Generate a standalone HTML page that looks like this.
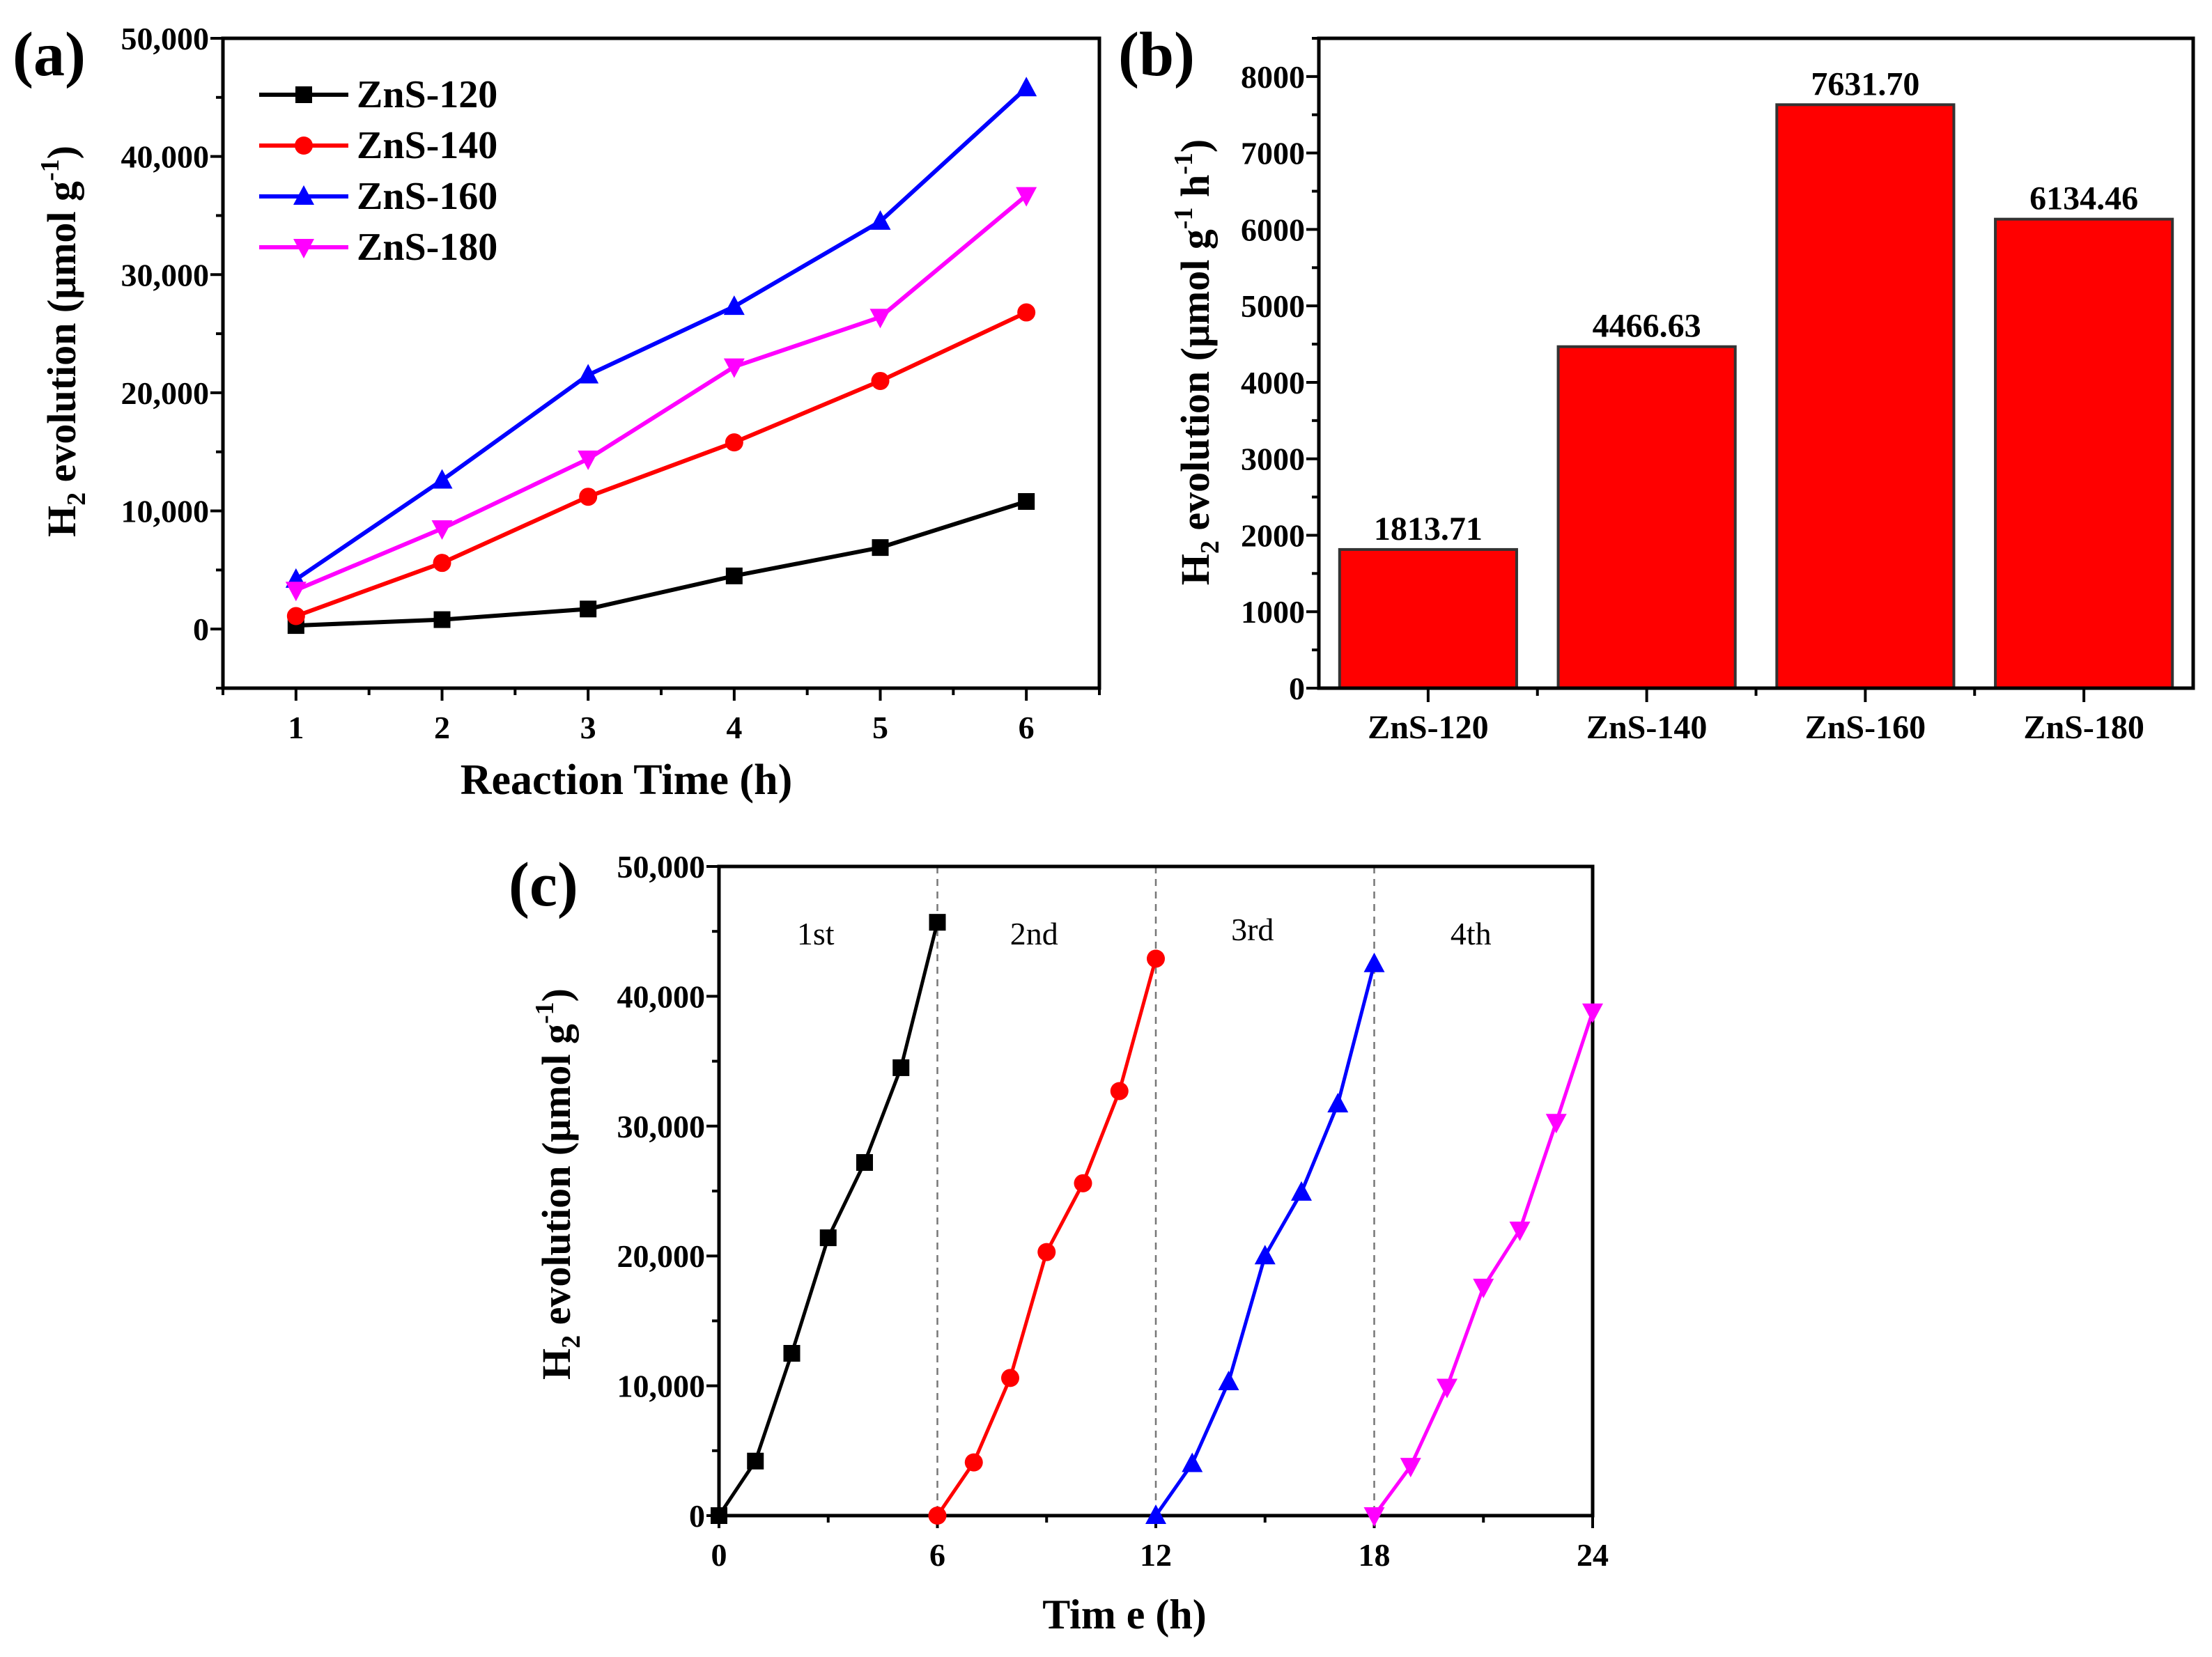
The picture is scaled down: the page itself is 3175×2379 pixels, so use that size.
<!DOCTYPE html>
<html><head><meta charset="utf-8"><style>
html,body{margin:0;padding:0;background:#fff;}
svg{display:block;font-family:"Liberation Serif",serif;}
</style></head><body>
<svg id="fig" width="3175" height="2379" viewBox="0 0 3175 2379" xmlns="http://www.w3.org/2000/svg">
<rect width="3175" height="2379" fill="#fff"/>
</svg>
<script>
// ---- Panel (a) data ----
const aHours = [1,2,3,4,5,6];
const aSeriesNames = ["ZnS-120","ZnS-140","ZnS-160","ZnS-180"];
const aZnS120 = [300,800,1700,4500,6900,10800];
const aZnS140 = [1100,5600,11200,15800,21000,26800];
const aZnS160 = [4200,12600,21500,27300,34500,45800];
const aZnS180 = [3300,8500,14400,22200,26400,36700];
const aYTicks = [0,10000,20000,30000,40000,50000];
const aYTickLabels = ["0","10,000","20,000","30,000","40,000","50,000"];
const aXTicks = [1,2,3,4,5,6];
// ---- Panel (b) data ----
const bCategories = ["ZnS-120","ZnS-140","ZnS-160","ZnS-180"];
const bValues = [1813.71,4466.63,7631.70,6134.46];
const bValueLabels = ["1813.71","4466.63","7631.70","6134.46"];
const bYTicks = [0,1000,2000,3000,4000,5000,6000,7000,8000];
// ---- Panel (c) data ----
const cCycleNames = ["1st","2nd","3rd","4th"];
const cCycle1X = [0,1,2,3,4,5,6];
const cCycle1Y = [0,4200,12500,21400,27200,34500,45700];
const cCycle2X = [6,7,8,9,10,11,12];
const cCycle2Y = [0,4100,10600,20300,25600,32700,42900];
const cCycle3X = [12,13,14,15,16,17,18];
const cCycle3Y = [0,4000,10300,20000,24900,31700,42500];
const cCycle4X = [18,19,20,21,22,23,24];
const cCycle4Y = [0,3800,9900,17600,22000,30300,38800];
const cXTicks = [0,6,12,18,24];
const cYTicks = [0,10000,20000,30000,40000,50000];
const cYTickLabels = ["0","10,000","20,000","30,000","40,000","50,000"];
const cDividers = [6,12,18];

const NS="http://www.w3.org/2000/svg";
const svg=document.getElementById('fig');
function el(tag,attrs,parent){const e=document.createElementNS(NS,tag);for(const k in attrs)e.setAttribute(k,attrs[k]);(parent||svg).appendChild(e);return e;}
function txt(s,x,y,size,opts,parent){opts=opts||{};const t=el('text',{x:x,y:y,'font-size':size,'font-weight':opts.w||'bold','text-anchor':opts.a||'middle',fill:opts.fill||'#000'},parent);t.textContent=s;return t;}
function marker(shape,x,y,color,g){const s=12;let m;
 if(shape==='square'){m=el('rect',{x:x-s,y:y-s,width:2*s,height:2*s,fill:color},g);}
 else if(shape==='circle'){m=el('circle',{cx:x,cy:y,r:s+1,fill:color},g);}
 else if(shape==='up'){m=el('polygon',{points:(x)+','+(y-s-4)+' '+(x-s-3)+','+(y+s)+' '+(x+s+3)+','+(y+s),fill:color},g);}
 else {m=el('polygon',{points:(x)+','+(y+s+4)+' '+(x-s-3)+','+(y-s)+' '+(x+s+3)+','+(y-s),fill:color},g);}
 return m;}
function ytitle(x,y,parts,g){
 const t=el('text',{x:x,y:y,'font-size':58,'font-weight':'bold','text-anchor':'middle',transform:'rotate(-90 '+x+' '+y+')'},g);
 let off=0;
 parts.forEach(p=>{const ts=el('tspan',{},t);ts.textContent=p[0];
  let target=0;if(p[1]==='sub')target=14;if(p[1]==='sup')target=-24;
  ts.setAttribute('dy',target-off);off=target;
  if(p[1]!=='n')ts.setAttribute('font-size',38);});
 return t;}

const colors=["#000000","#ff0000","#0000ff","#ff00ff"];
const shapes=["square","circle","up","down"];
const TS=46;

// ================= Panel (a) =================
(function(){
 const g=el('g',{});
 const L=320,R=1578,T=55,B=988,xmin=0.5,xmax=6.5,ymin=-5000,ymax=50000;
 const X=v=>L+(v-xmin)/(xmax-xmin)*(R-L), Y=v=>B-(v-ymin)/(ymax-ymin)*(B-T);
 const f=el('rect',{x:L,y:T,width:R-L,height:B-T,fill:'none',stroke:'#000','stroke-width':5},g);
 
 for(let v=-5000;v<=50000;v+=5000){const maj=v%10000===0;el('line',{x1:L,x2:L-(maj?18:10),y1:Y(v),y2:Y(v),stroke:'#000','stroke-width':4},g);}
 aYTicks.forEach((v,i)=>{const t=txt(aYTickLabels[i],L-20,Y(v)+16,TS,{a:'end'},g);});
 for(let v=0.5;v<=6.5;v+=0.5){const maj=Math.abs(v-Math.round(v))<1e-6;el('line',{x1:X(v),x2:X(v),y1:B,y2:B+(maj?18:10),stroke:'#000','stroke-width':4},g);}
 aXTicks.forEach(v=>{const t=txt(String(v),X(v),B+72,TS,{},g);});
 const xt=txt('Reaction Time (h)',(L+R)/2-50,1140,62,{},g);
 ytitle(108,490,[['H','n'],['2','sub'],[' evolution (μmol g','n'],['-1','sup'],[')','n']],g);
 const series=[aZnS120,aZnS140,aZnS160,aZnS180];
 series.forEach((s,k)=>{const sg=el('g',{},g);
  el('polyline',{points:aHours.map((h,i)=>X(h)+','+Y(s[i])).join(' '),fill:'none',stroke:colors[k],'stroke-width':6},sg);
  aHours.forEach((h,i)=>marker(shapes[k],X(h),Y(s[i]),colors[k],sg));});
 const lg=el('g',{});g.appendChild(lg);
 aSeriesNames.forEach((n,k)=>{const y=136+k*73;const eg=el('g',{},lg);
  el('line',{x1:372,x2:500,y1:y,y2:y,stroke:colors[k],'stroke-width':6},eg);marker(shapes[k],436,y,colors[k],eg);txt(n,512,y+18,56,{a:'start'},eg);});
 const pl=txt('(a)',18,108,90,{a:'start'},g);
})();

// ================= Panel (b) =================
(function(){
 const g=el('g',{});
 const L=1893,R=3148,T=55,B=988,ymin=0,ymax=8500;
 const Y=v=>B-(v-ymin)/(ymax-ymin)*(B-T);const band=(R-L)/bCategories.length;
 bCategories.forEach((c,i)=>{const cx=L+band*(i+0.5),w=band*0.81;
  const r=el('rect',{x:cx-w/2,y:Y(bValues[i]),width:w,height:B-Y(bValues[i]),fill:'#ff0000',stroke:'#333','stroke-width':4},g);
  
  const vl=txt(bValueLabels[i],cx,Y(bValues[i])-14,48,{},g);
  el('line',{x1:cx,x2:cx,y1:B,y2:B+20,stroke:'#000','stroke-width':4},g);
  if(i>0)el('line',{x1:L+band*i,x2:L+band*i,y1:B,y2:B+11,stroke:'#000','stroke-width':4},g);
  const xl=txt(c,cx,B+72,48,{},g);});
 const f=el('rect',{x:L,y:T,width:R-L,height:B-T,fill:'none',stroke:'#000','stroke-width':5},g);
 
 for(let v=0;v<=8500;v+=500){const maj=v%1000===0;el('line',{x1:L,x2:L-(maj?18:10),y1:Y(v),y2:Y(v),stroke:'#000','stroke-width':4},g);}
 bYTicks.forEach(v=>{const t=txt(String(v),L-20,Y(v)+16,TS,{a:'end'},g);});
 ytitle(1735,520,[['H','n'],['2','sub'],[' evolution (μmol g','n'],['-1','sup'],[' h','n'],['-1','sup'],[')','n']],g);
 const pl=txt('(b)',1605,108,90,{a:'start'},g);
})();

// ================= Panel (c) =================
(function(){
 const g=el('g',{});
 const L=1032,R=2286,T=1244,B=2176,xmin=0,xmax=24,ymin=0,ymax=50000;
 const X=v=>L+(v-xmin)/(xmax-xmin)*(R-L), Y=v=>B-(v-ymin)/(ymax-ymin)*(B-T);
 cDividers.forEach(d=>{const l=el('line',{x1:X(d),x2:X(d),y1:T,y2:B,stroke:'#777','stroke-width':2.5,'stroke-dasharray':'10,8'},g);});
 const f=el('rect',{x:L,y:T,width:R-L,height:B-T,fill:'none',stroke:'#000','stroke-width':5},g);
 
 for(let v=0;v<=50000;v+=5000){const maj=v%10000===0;el('line',{x1:L,x2:L-(maj?18:10),y1:Y(v),y2:Y(v),stroke:'#000','stroke-width':4},g);}
 cYTicks.forEach((v,i)=>{const t=txt(cYTickLabels[i],L-20,Y(v)+16,TS,{a:'end'},g);});
 for(let v=0;v<=24;v+=3){const maj=v%6===0;el('line',{x1:X(v),x2:X(v),y1:B,y2:B+(maj?18:10),stroke:'#000','stroke-width':4},g);}
 cXTicks.forEach(v=>{const t=txt(String(v),X(v),B+72,TS,{},g);});
 const xt=txt('Tim e (h)',(L+R)/2-45,2338,60,{},g);
 ytitle(818,1700,[['H','n'],['2','sub'],[' evolution (μmol g','n'],['-1','sup'],[')','n']],g);
 const xs=[cCycle1X,cCycle2X,cCycle3X,cCycle4X],ys=[cCycle1Y,cCycle2Y,cCycle3Y,cCycle4Y];
 xs.forEach((xa,k)=>{const sg=el('g',{},g);
  el('polyline',{points:xa.map((h,i)=>X(h)+','+Y(ys[k][i])).join(' '),fill:'none',stroke:colors[k],'stroke-width':5},sg);
  xa.forEach((h,i)=>marker(shapes[k],X(h),Y(ys[k][i]),colors[k],sg));
  const cl=txt(cCycleNames[k],X(k*6+3)-18,1356-(k===2?6:0),46,{w:'normal'},g);});
 const pl=txt('(c)',730,1300,90,{a:'start'},g);
})();
</script>
</body></html>
